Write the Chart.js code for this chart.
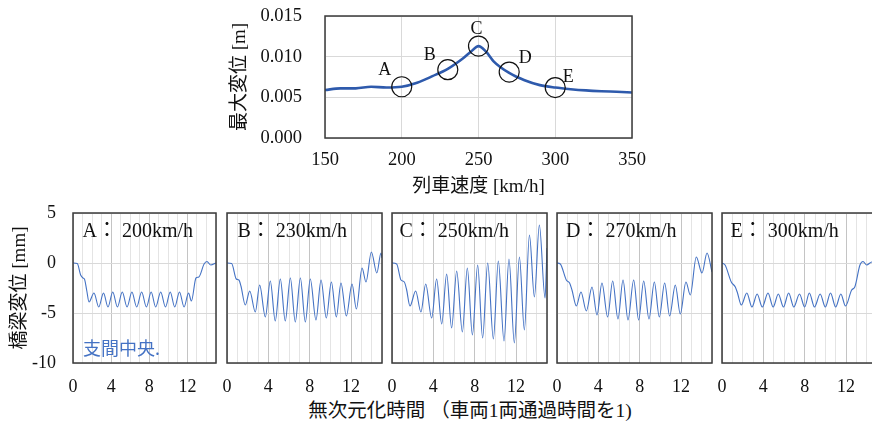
<!DOCTYPE html>
<html lang="ja">
<head>
<meta charset="utf-8">
<script src="https://cdn.jsdelivr.net/npm/chart.js@4.4.1/dist/chart.umd.min.js"></script>
<style>
html, body { margin:0; padding:0; width:872px; height:424px; overflow:hidden; background:#fff; }
canvas { position:absolute; }
#xtitle { position:absolute; left:220px; width:500px; top:399px; text-align:center;
  font-family:"Liberation Serif","Noto Sans CJK JP",serif; font-size:19.5px; line-height:24px; color:#111; white-space:nowrap; }
</style>
</head>
<body>
<canvas id="topChart" width="460" height="205" style="left:220px;top:0px"></canvas>
<div id="xtitle">無次元化時間 （車両1両通過時間を1)</div>
<script>
// ---------- data: top chart ----------
const speeds  = [150, 160, 170, 180, 190, 200, 210, 220, 230, 240, 245, 250, 255, 260, 270, 280, 290, 300, 310, 320, 330, 340, 350];
const maxDisp = [0.0059, 0.0061, 0.0061, 0.0063, 0.0062, 0.0063, 0.0068, 0.0076, 0.0085, 0.0098, 0.0106, 0.0113, 0.0106, 0.0094, 0.0080, 0.0071, 0.0065, 0.0062, 0.0060, 0.00585, 0.00575, 0.00568, 0.0056];
const markerSpeeds  = [200, 230, 250, 270, 300];
const markerDisp    = [0.0063, 0.0084, 0.0113, 0.0081, 0.0062];
const markerLetters = ['A', 'B', 'C', 'D', 'E'];

// ---------- data: bottom panels ----------
const panelNames  = ['A', 'B', 'C', 'D', 'E'];
const panelSpeeds = ['200km/h', '230km/h', '250km/h', '270km/h', '300km/h'];
const timeTickLabels = [0, 4, 8, 12];
const dispTicks = [5, 0, -5, -10];
const seriesName = '支間中央.';

const timeA = [0, 0.45, 0.8, 1.05, 1.2, 1.45, 1.68, 2.2, 2.7, 3.2, 3.67, 4.17, 4.66, 5.17, 5.67, 6.18, 6.68, 7.2, 7.7, 8.2, 8.67, 9.2, 9.7, 10.2, 10.67, 11.17, 11.65, 12.12, 12.42, 12.9, 13.2, 13.75, 14.05, 14.45, 15];
const dispA = [0, -0.05, -1.2, -1.5, -1.6, -2.8, -3.9, -3.0, -4.4, -3.0, -4.4, -2.9, -4.4, -2.9, -4.4, -2.9, -4.4, -2.9, -4.4, -2.9, -4.4, -2.9, -4.4, -2.9, -4.4, -2.9, -4.4, -3.0, -3.8, -1.5, -1.4, -0.1, 0.15, -0.2, 0];

const timeB = [0, 0.45, 0.9, 1.15, 1.35, 1.77, 2.2, 2.74, 3.16, 3.71, 4.19, 4.67, 5.16, 5.64, 6.13, 6.61, 7.1, 7.58, 8.06, 8.61, 9.1, 9.61, 10.1, 10.58, 11.03, 11.55, 12.1, 12.52, 13.07, 13.45, 13.97, 14.5, 14.9, 15];
const dispB = [0, -0.05, -1.6, -1.7, -2.3, -4.2, -2.8, -4.9, -2.2, -5.4, -1.8, -5.8, -1.6, -5.8, -1.5, -5.9, -1.5, -5.9, -1.6, -5.7, -1.7, -5.5, -1.9, -5.4, -2.0, -5.3, -2.1, -4.6, -0.5, -1.9, 1.1, -1.0, 1.0, 0.5];

const timeC = [0, 0.45, 0.87, 1.19, 1.4, 1.74, 2.29, 2.8, 3.26, 3.84, 4.32, 4.81, 5.29, 5.77, 6.26, 6.81, 7.29, 7.78, 8.29, 8.77, 9.26, 9.81, 10.29, 10.84, 11.32, 11.84, 12.33, 12.81, 13.3, 13.78, 14.26, 14.81, 15];
const dispC = [0, -0.1, -1.7, -1.9, -2.6, -4.3, -2.8, -4.9, -2.1, -5.5, -1.6, -6.1, -1.1, -6.5, -0.8, -6.9, -0.5, -7.2, -0.2, -7.5, 0.0, -7.6, 0.2, -7.8, 0.4, -8.0, 0.6, -6.7, 2.8, -3.4, 3.8, -3.5, 1.5];

const timeD = [0, 0.32, 0.9, 1.22, 1.45, 1.87, 2.32, 2.84, 3.39, 3.87, 4.35, 4.9, 5.39, 5.9, 6.39, 6.87, 7.42, 7.9, 8.39, 8.9, 9.42, 9.9, 10.42, 10.9, 11.45, 11.93, 12.48, 12.9, 13.48, 14.03, 14.52, 15];
const dispD = [0, -0.1, -1.7, -2.0, -2.7, -4.3, -2.9, -4.8, -2.4, -5.2, -2.0, -5.4, -1.8, -5.6, -1.7, -5.7, -1.7, -5.7, -1.8, -5.6, -1.9, -5.4, -2.0, -5.3, -2.2, -5.1, -1.9, -3.2, 0.6, -1.0, 1.0, -0.9];

const timeE = [0, 0.3, 0.9, 1.29, 1.5, 1.87, 2.4, 2.9, 3.4, 3.9, 4.45, 4.95, 5.45, 5.95, 6.45, 6.95, 7.5, 8.0, 8.45, 8.95, 9.5, 10.0, 10.5, 11.0, 11.5, 11.95, 12.55, 12.85, 13.35, 13.65, 14.0, 14.5, 15];
const dispE = [0, -0.2, -1.9, -2.4, -3.0, -4.2, -3.0, -4.4, -3.1, -4.4, -3.0, -4.4, -3.1, -4.4, -3.0, -4.4, -3.1, -4.4, -3.0, -4.4, -3.1, -4.4, -3.0, -4.4, -3.1, -4.3, -2.7, -2.4, -0.2, 0.15, -0.2, 0.1, 0];

const panelTimes = [timeA, timeB, timeC, timeD, timeE];
const panelDisps = [dispA, dispB, dispC, dispD, dispE];

// ---------- layout / style (not data) ----------
const FONT = '"Liberation Serif", "Noto Sans CJK JP", serif';
const INK = '#111';
const panelBoxes = [[73, 216], [227, 382], [392, 547], [557, 712], [722, 877]];
const panelLabelDx = [9.5, 10.5, 7.5, 9, 8.5];
const letterOffsets = [[-17, -16.5], [-18, -14], [-2, -16.5], [16, -14], [13, -10]];

const noPadX = s => { s.paddingLeft = 0; s.paddingRight = 0; };
const noPadY = s => { s.paddingTop = 0; s.paddingBottom = 0; };

const framePlugin = {
  id: 'frame',
  afterDraw(chart, args, opts) {
    const { ctx, chartArea: a } = chart;
    ctx.save();
    ctx.strokeStyle = '#3a3a3a';
    ctx.lineWidth = 1.5;
    ctx.strokeRect(a.left, a.top, a.right - a.left, a.bottom - a.top);
    if (opts.label) {
      ctx.font = '20px ' + FONT;
      ctx.fillStyle = INK;
      ctx.textAlign = 'left';
      ctx.textBaseline = 'alphabetic';
      ctx.fillText(opts.label, a.left + opts.dx, a.top + 24);
    }
    if (opts.note) {
      ctx.font = '18px "Noto Sans CJK JP", sans-serif';
      ctx.fillStyle = '#4472C4';
      ctx.textAlign = 'left';
      ctx.textBaseline = 'middle';
      ctx.fillText(opts.note, a.left + 10, a.bottom - 15);
    }
    ctx.restore();
  }
};

const letterPlugin = {
  id: 'letters',
  afterDatasetsDraw(chart) {
    const meta = chart.getDatasetMeta(0);
    const ctx = chart.ctx;
    ctx.save();
    ctx.font = '18px ' + FONT;
    ctx.fillStyle = INK;
    ctx.textAlign = 'center';
    ctx.textBaseline = 'middle';
    meta.data.forEach((pt, i) => {
      const o = letterOffsets[i];
      ctx.fillText(markerLetters[i], pt.x + o[0], pt.y + o[1]);
    });
    ctx.restore();
  }
};

// ---------- top chart ----------
new Chart(document.getElementById('topChart'), {
  type: 'line',
  data: {
    datasets: [
      {
        label: 'markers',
        data: markerSpeeds.map((s, i) => ({ x: s, y: markerDisp[i] })),
        showLine: false,
        pointRadius: 10,
        pointHoverRadius: 10,
        pointBorderColor: INK,
        pointBorderWidth: 1.2,
        pointBackgroundColor: 'rgba(0,0,0,0)',
        borderColor: INK
      },
      {
        label: '最大変位',
        data: speeds.map((s, i) => ({ x: s, y: maxDisp[i] })),
        borderColor: '#2E5AAC',
        borderWidth: 2.6,
        pointRadius: 0,
        cubicInterpolationMode: 'monotone',
        fill: false
      }
    ]
  },
  options: {
    responsive: false,
    animation: false,
    devicePixelRatio: 1,
    layout: { padding: { left: 0, top: 16, right: 48, bottom: 0 } },
    plugins: { legend: { display: false }, tooltip: { enabled: false }, frame: {} },
    scales: {
      x: {
        type: 'linear', min: 150, max: 350,
        ticks: { stepSize: 50, padding: 11, maxRotation: 0, font: { family: FONT, size: 18.5 }, color: INK },
        grid: { color: '#D9D9D9', drawTicks: false },
        border: { display: false },
        title: { display: true, text: '列車速度 [km/h]', font: { family: FONT, size: 19 }, color: INK, padding: { top: 0, bottom: 7 } },
        afterFit: s => { s.height = 67; noPadX(s); }
      },
      y: {
        type: 'linear', min: 0, max: 0.015,
        ticks: { stepSize: 0.005, padding: 23, font: { family: FONT, size: 18.5 }, color: INK, callback: v => Number(v).toFixed(3) },
        grid: { color: '#D9D9D9', drawTicks: false },
        border: { display: false },
        title: { display: true, text: '最大変位 [m]', font: { family: FONT, size: 19 }, color: INK, padding: { top: 9, bottom: 0 } },
        afterFit: s => { s.width = 105; noPadY(s); }
      }
    }
  },
  plugins: [framePlugin, letterPlugin]
});

// ---------- bottom panels ----------
function makePanel(i) {
  const [L, R] = panelBoxes[i];
  const first = i === 0;
  const canvasLeft = first ? 0 : L - 10;
  const padLeft = first ? 0 : 10;
  const yWidth = first ? L : 0;
  const w = R - canvasLeft + 6;
  const cv = document.createElement('canvas');
  cv.width = w; cv.height = 224;
  cv.style.left = canvasLeft + 'px';
  cv.style.top = '200px';
  document.body.appendChild(cv);
  const t = panelTimes[i], d = panelDisps[i];
  new Chart(cv, {
    type: 'line',
    data: {
      datasets: [{
        label: seriesName,
        data: t.map((x, k) => ({ x: x, y: d[k] })),
        borderColor: '#4472C4',
        borderWidth: 1.1,
        pointRadius: 0,
        cubicInterpolationMode: 'monotone',
        fill: false
      }]
    },
    options: {
      responsive: false,
      animation: false,
      devicePixelRatio: 1,
      layout: { padding: { left: padLeft, top: 13, right: 6, bottom: 0 } },
      plugins: {
        legend: { display: false }, tooltip: { enabled: false },
        frame: { label: panelNames[i] + '： ' + panelSpeeds[i], dx: panelLabelDx[i], note: first ? seriesName : null }
      },
      scales: {
        x: {
          type: 'linear', min: 0, max: 15,
          ticks: {
            stepSize: 1, autoSkip: false, maxRotation: 0, minRotation: 0, padding: 13,
            font: { family: FONT, size: 18 }, color: INK,
            callback: v => timeTickLabels.includes(v) ? String(v) : ''
          },
          grid: {
            drawTicks: false,
            color: c => (c.tick && timeTickLabels.includes(c.tick.value)) ? '#C4C4C4' : '#E4E4E4'
          },
          border: { display: false },
          afterFit: s => { s.height = 61; noPadX(s); }
        },
        y: {
          type: 'linear', min: -10, max: 5,
          ticks: {
            display: first, stepSize: 5, padding: 17,
            font: { family: FONT, size: 18 }, color: INK,
            callback: v => dispTicks.includes(v) ? String(v) : ''
          },
          grid: { color: '#D9D9D9', drawTicks: false },
          border: { display: false },
          title: { display: first, text: '橋梁変位 [mm]', font: { family: FONT, size: 19 }, color: INK, padding: { top: 9, bottom: 0 } },
          afterFit: s => { s.width = yWidth; noPadY(s); }
        }
      }
    },
    plugins: [framePlugin]
  });
}
for (let i = 0; i < 5; i++) makePanel(i);
</script>
</body>
</html>
